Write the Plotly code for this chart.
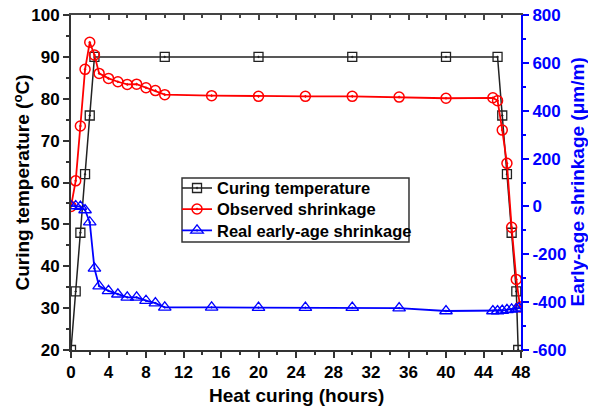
import plotly.graph_objects as go

# Curing temperature (left axis, °C)
temp_x = [0, 0.5, 1, 1.5, 2, 2.5, 10, 20, 30, 40, 45.5, 46, 46.5, 47, 47.5, 47.7]
temp_y = [20, 34, 48, 62, 76, 90, 90, 90, 90, 90, 90, 76, 62, 48, 34, 20]

# Observed shrinkage (right axis, µm/m)
obs_x = [0, 0.5, 1, 1.5, 2, 2.5, 3, 4, 5, 6, 7, 8, 9, 10, 15, 20, 25, 30, 35, 40,
         45, 45.5, 46, 46.5, 47, 47.5, 47.9]
obs_y = [0, 107, 336, 573, 686, 633, 556, 535, 521, 510, 511, 496, 484, 467, 463, 460,
         460, 460, 457, 452, 454, 442, 319, 180, -87, -305, -420]

# Real early-age shrinkage (right axis, µm/m)
real_x = [0, 0.5, 1, 1.5, 2, 2.5, 3, 4, 5, 6, 7, 8, 9, 10, 15, 20, 25, 30, 35, 40,
          45, 45.5, 46, 46.5, 47, 47.5, 47.8]
real_y = [2, 2, -1, -15, -66, -259, -333, -353, -367, -380, -380, -394, -404, -422, -422,
          -423, -423, -423, -425, -437, -437, -437, -435, -432, -430, -428, -425]

# Tick labels of the right axis (hyphen minus, as in the reference)
right_tickvals = [-600, -400, -200, 0, 200, 400, 600, 800]
right_ticktext = ["-600", "-400", "-200", "0", "200", "400", "600", "800"]

FONT = "Liberation Sans, Arial, sans-serif"
BLUE = "#0000FF"
RED = "#FF0000"
BLACK = "#000000"

fig = go.Figure()

fig.add_trace(go.Scatter(
    x=temp_x, y=temp_y, name="Curing temperature", mode="lines+markers",
    line=dict(color="#222222", width=1.5),
    marker=dict(symbol="square-open-dot", size=9, color="#222222", line=dict(width=1.3)),
    yaxis="y", xaxis="x", legend="legend"))

fig.add_trace(go.Scatter(
    x=obs_x, y=obs_y, name="Observed shrinkage", mode="lines+markers",
    line=dict(color=RED, width=1.8),
    marker=dict(symbol="circle-open-dot", size=10, color=RED, line=dict(width=1.5)),
    yaxis="y2", xaxis="x", legend="legend2"))

fig.add_trace(go.Scatter(
    x=real_x, y=real_y, name="Real early-age shrinkage", mode="lines+markers",
    line=dict(color=BLUE, width=1.8),
    marker=dict(symbol="triangle-up-open-dot", size=11, color=BLUE, line=dict(width=1.3)),
    yaxis="y2", xaxis="x", legend="legend3"))

# invisible helper trace so the top axis is drawn
fig.add_trace(go.Scatter(x=[0], y=[20], xaxis="x2", yaxis="y", mode="markers",
                         marker=dict(opacity=0), showlegend=False, hoverinfo="skip"))

tickfont = dict(family=FONT, size=17, color=BLACK, weight="bold")
titlefont = dict(family=FONT, size=19, color=BLACK, weight="bold")
legfont = dict(family=FONT, size=16.5, color=BLACK, weight="bold")


def leg(yc):
    return dict(x=0.2356, y=yc, xanchor="left", yanchor="middle",
                bgcolor="rgba(0,0,0,0)", borderwidth=0, font=legfont, itemwidth=30)


fig.update_layout(
    width=588, height=401,
    margin=dict(l=63, r=75, t=7, b=59, autoexpand=False),
    paper_bgcolor="white", plot_bgcolor="white",
    font=dict(family=FONT),
    showlegend=True,
    legend=leg(0.4827),
    legend2=leg(0.4200),
    legend3=leg(0.3561),
    shapes=[dict(type="rect", xref="paper", yref="paper",
                 x0=0.2467, x1=0.7511, y0=0.3224, y1=0.5134,
                 line=dict(color="#333333", width=1.5), fillcolor="white", layer="above")],
    annotations=[
        dict(text="Heat curing (hours)", xref="paper", yref="paper", x=0.5, y=0,
             xanchor="center", yanchor="middle", yshift=-45, showarrow=False, font=titlefont),
        dict(text="Curing temperature (<sup>o</sup>C)", xref="paper", yref="paper",
             x=0, y=0.5, xanchor="center", yanchor="middle", xshift=-50, textangle=-90,
             showarrow=False, font=titlefont),
        dict(text="Early-age shrinkage (\u03bcm/m)", xref="paper", yref="paper",
             x=1, y=0.5, xanchor="center", yanchor="middle", xshift=56, textangle=-90,
             showarrow=False, font=dict(family=FONT, size=19, color=BLUE, weight="bold")),
    ],
    xaxis=dict(
        range=[0, 48], dtick=4, tick0=0, ticks="outside", ticklen=6, tickwidth=2,
        tickcolor="#333333", showline=True, linecolor="#333333", linewidth=2,
        showgrid=False, zeroline=False, tickfont=tickfont, automargin=False,
        ticklabeloverflow="allow",
        minor=dict(dtick=2, ticks="outside", ticklen=3, tickwidth=2, tickcolor="#333333"),
    ),
    xaxis2=dict(
        range=[0, 48], dtick=4, tick0=0, overlaying="x", side="top", ticks="inside",
        ticklen=5, tickwidth=2, tickcolor="#444444", showline=True, linecolor="#444444",
        linewidth=2, showgrid=False, zeroline=False, showticklabels=False, automargin=False,
        minor=dict(dtick=2, ticks="inside", ticklen=3, tickwidth=2, tickcolor="#444444"),
    ),
    yaxis=dict(
        range=[20, 100], dtick=10, tick0=0, ticks="outside", ticklen=6, tickwidth=2,
        tickcolor="#333333", showline=True, linecolor="#333333", linewidth=2,
        showgrid=False, zeroline=False, tickfont=tickfont, automargin=False,
        ticklabeloverflow="allow",
        minor=dict(dtick=5, ticks="outside", ticklen=3, tickwidth=2, tickcolor="#333333"),
    ),
    yaxis2=dict(
        range=[-600, 800], tickvals=right_tickvals, ticktext=right_ticktext,
        overlaying="y", side="right",
        ticks="outside", ticklen=6, tickwidth=2, tickcolor=BLUE,
        showline=True, linecolor=BLUE, linewidth=2, showgrid=False, zeroline=False,
        tickfont=dict(family=FONT, size=17, color=BLUE, weight="bold"), automargin=False,
        ticklabeloverflow="allow",
        minor=dict(dtick=100, ticks="outside", ticklen=3, tickwidth=2, tickcolor=BLUE),
    ),
)

fig.write_html("out.html")
